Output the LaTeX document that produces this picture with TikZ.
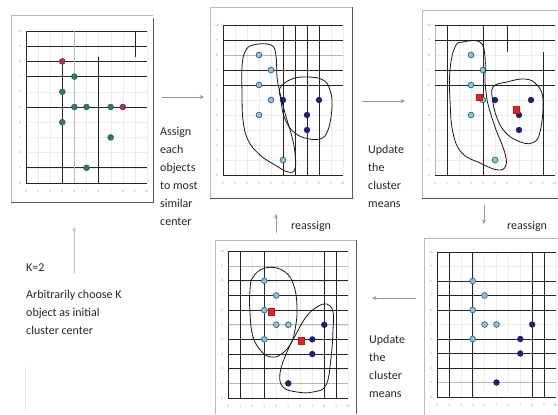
\documentclass[tikz,border=0pt]{standalone}
\usepackage{fontspec}
\setmainfont{Carlito}
\usetikzlibrary{arrows.meta}
\definecolor{ptgreen}{HTML}{2F7D5C}
\definecolor{ptmaroon}{HTML}{A8325A}
\definecolor{ptlight}{HTML}{5AA6D6}
\definecolor{ptcyan}{HTML}{45B5C8}
\definecolor{ptdark}{HTML}{1E1E7E}
\definecolor{ptred}{HTML}{E52222}
\newcommand\myticks[1]{\foreach \i in {0,...,9}{\node[tick] (#1x\i) at (\i,-0.55) {\i};}
 \node[tick,anchor=east] (#1x10) at (10.12,-0.55) {10};
 \foreach \i in {0,...,10}{\node[tick] (#1y\i) at (-0.5,\i) {\i};}}
\newcommand\fgrid{\draw[fgrd] foreach \i in {0,...,10} {(\i,0)--(\i,10) (0,\i)--(10,\i)};}
\begin{document}
\begin{tikzpicture}[x=1pt,y=-1pt,
 grd/.style={black!85,line width=0.8pt},
 lgrd/.style={gray!55,line width=0.6pt},
 fgrd/.style={gray!15,line width=0.3pt},
 ltop/.style={gray!55,line width=0.6pt},
 shd/.style={black!65,line width=0.9pt},
 tick/.style={font=\fontsize{3.5}{4}\selectfont,text=gray!80,inner sep=0pt},
 lbl/.style={font=\fontsize{12}{18}\selectfont,align=left,anchor=north west,inner sep=0pt,text=black!85},
 arr/.style={-{Stealth[length=4.5pt,width=4pt]},draw=gray!80,line width=0.6pt},
 blob/.style={black!90,line width=0.8pt},
 pgreen/.style={fill=ptgreen,draw=ptgreen!70!black,line width=0.4pt},
 pmaroon/.style={fill=ptmaroon,draw=ptmaroon!70!black,line width=0.4pt},
 plight/.style={fill=ptlight!70,draw=ptlight!60!black,line width=0.7pt},
 pcyan/.style={fill=ptcyan!70,draw=ptcyan!60!black,line width=0.7pt},
 pdark/.style={fill=ptdark,draw=ptdark!70!black,line width=0.4pt},
 pred/.style={fill=ptred,draw=ptred!80!black,line width=0.3pt}]
\useasboundingbox (0,0) rectangle (558,415);
\clip (0,0) rectangle (558,415);
\fill[white] (0,0) rectangle (558,415);

% ---------- panel 1 ----------
\draw[ltop] (11,202) -- (11,15) -- (153,15);
\draw[shd] (153,18) -- (153,202) -- (11,202);
\begin{scope}[shift={(26,183)},x=12.1pt,y=15.2pt]
 \fgrid
 \draw[grd] (0,0)--(10,0) (0,0)--(0,10) (0,10)--(10,10) (0,9)--(10,9) (0,8)--(10,8) (0,7)--(10,7)
   (0,5)--(10,5) (0,1)--(10,1) (3,0)--(3,8) (6,0)--(6,8.3) (9,8.3)--(9,10);
 \draw[lgrd] (4,0)--(4,10);
 \myticks{a}
 \foreach \p in {(4,7),(3,6),(4,5),(5,5),(3,4),(7,5),(7,3),(5,1)} \filldraw[pgreen] \p circle (3pt);
 \foreach \p in {(3,8),(8,5)} \filldraw[pmaroon] \p circle (3pt);
\end{scope}

% ---------- panel 2 ----------
\draw[ltop] (210,198) -- (210,7) -- (352,7);
\draw[shd] (352,7) -- (352,198) -- (210,198);
\begin{scope}[shift={(223,175)},x=12pt,y=15pt]
 \fgrid
 \draw[lgrd] (0,8)--(10,8);
 \draw[grd] (0,0)--(10,0) (0,0)--(0,10) (0,10)--(10,10) (0,9)--(10,9) (0,7)--(10,7) (0,6)--(10,6)
   (5,0)--(5,10) (6,0)--(6,10) (7,0)--(7,10) (8,0)--(8,10);
 \myticks{b}
 \foreach \p in {(3,8),(4,7),(3,6),(4,5),(3,4),(5,1)} \filldraw[plight] \p circle (2.9pt);
 \foreach \p in {(5,5),(8,5),(7,4),(7,3)} \filldraw[pdark] \p circle (2.9pt);
\end{scope}
\draw[blob] plot[smooth cycle,tension=0.7] coordinates {(253,45) (271,45) (276,56) (277,77) (280,93)
 (285,113) (292,137) (295,153) (295,169) (288,172) (275,165) (260,155) (248,140) (243,120) (242,93) (242,67) (245,52)};
\draw[blob] plot[smooth cycle,tension=0.7] coordinates {(280,88) (292,79) (308,77) (323,80) (330,90)
 (332,107) (328,130) (320,139) (305,138) (295,133) (288,125) (283,113) (281,100)};

% ---------- panel 3 ----------
\draw[ltop] (422,198) -- (422,10) -- (558,10);
\draw[shd] (422,198) -- (558,198);
\begin{scope}[shift={(435,175)},x=12pt,y=15pt]
 \fgrid
 \draw[lgrd] (0,0)--(0,10);
 \draw[grd] (0,0)--(10,0) (0,10)--(10,10) (0,9)--(10,9) (0,7)--(10,7) (0,6)--(10,6)
   (1,0)--(1,10) (4,0)--(4,10) (6,8.2)--(6,10) (9,0)--(9,8.2);
 \myticks{c}
 \foreach \p in {(3,8),(4,7),(3,6),(4,5),(3,4),(5,1)} \filldraw[pcyan] \p circle (2.9pt);
 \foreach \p in {(5,5),(8,5),(7,4),(7,3)} \filldraw[pdark] \p circle (2.9pt);
 \foreach \p in {(3.65,5.2),(6.75,4.35)} \filldraw[pred] \p ++(-3pt,-3.3pt) rectangle ++(6pt,6.6pt);
\end{scope}
\draw[blob] plot[smooth cycle,tension=0.7] coordinates {(455,47) (463,42) (480,42) (485,57) (485,83)
 (487,100) (495,127) (504,150) (506,165) (498,170) (480,163) (462,153) (453,133) (450,100) (450,70)};
\draw[blob] plot[smooth cycle,tension=0.7] coordinates {(493,87) (507,82) (525,79) (537,85) (543,100)
 (540,132) (532,143) (518,141) (505,132) (497,118) (493,102)};

% ---------- panel 4 ----------
\draw[ltop] (424,415) -- (424,238) -- (558,238);
\begin{scope}[shift={(437,397)},x=11.9pt,y=14.5pt]
 \fgrid
 \draw[lgrd] (0,1)--(10,1);
 \draw[grd] (0,0)--(10,0) (0,10)--(10,10) (0,8)--(10,8) (0,7)--(10,7) (0,6)--(10,6) (0,4)--(10,4) (0,3)--(10,3) (0,2)--(10,2)
   (0,0)--(0,10) (1,0)--(1,10) (3,0)--(3,10) (8,0)--(8,10) (9,0)--(9,10);
 \myticks{d}
 \foreach \p in {(3,8),(4,7),(3,6),(4,5),(5,5),(3,4)} \filldraw[plight] \p circle (2.9pt);
 \foreach \p in {(8,5),(7,4),(7,3),(5,1)} \filldraw[pdark] \p circle (2.9pt);
\end{scope}

% ---------- panel 5 ----------
\draw[ltop] (215,414) -- (215,240) -- (356,240);
\draw[shd] (356,240) -- (356,414);
\begin{scope}[shift={(228.3,398)},x=12pt,y=14.65pt]
 \fgrid
 \draw[lgrd] (0,1)--(10,1) (0,9)--(10,9) (0,5)--(10,5);
 \draw[grd] (0,0)--(10,0) (0,10)--(10,10) (0,8)--(10,8) (0,7)--(10,7) (0,6)--(10,6) (0,4)--(10,4) (0,3)--(10,3) (0,2)--(10,2)
   (0,0)--(0,10) (1,0)--(1,10) (3,0)--(3,10) (8,0)--(8,10) (9,0)--(9,10);
 \myticks{e}
 \foreach \p in {(3,8),(4,7),(3,6),(4,5),(5,5),(3,4)} \filldraw[plight] \p circle (2.9pt);
 \foreach \p in {(8,5),(7,4),(7,3),(5,1)} \filldraw[pdark] \p circle (2.9pt);
 \foreach \p in {(3.6,5.9),(6.1,3.9)} \filldraw[pred] \p ++(-3pt,-3.3pt) rectangle ++(6pt,6.6pt);
\end{scope}
\draw[blob] plot[smooth cycle,tension=0.7] coordinates {(253,277) (265,268) (282,270) (293,283) (297,307)
 (295,330) (290,345) (280,355) (271,357) (262,352) (253,337) (250,313) (250,290)};
\draw[blob] plot[smooth cycle,tension=0.7] coordinates {(317,307) (327,304) (333,312) (333,330) (331,358)
 (326,385) (313,392) (297,392) (283,387) (280,373) (287,352) (295,336) (306,317)};

% ---------- texts and arrows ----------
\coordinate (a1s) at (162,97);  \coordinate (a1e) at (204,97);
\coordinate (a2s) at (362,101); \coordinate (a2e) at (405,101);
\coordinate (a3s) at (484,205); \coordinate (a3e) at (484,224);
\coordinate (a4s) at (276,233); \coordinate (a4e) at (276,214);
\coordinate (a5s) at (416,298); \coordinate (a5e) at (372,298);
\coordinate (a6s) at (74,273);  \coordinate (a6e) at (74,227);
\draw[arr] (a1s) -- (a1e);
\draw[arr] (a2s) -- (a2e);
\draw[arr] (a3s) -- (a3e);
\draw[arr] (a4s) -- (a4e);
\draw[arr] (a5s) -- (a5e);
\draw[arr,draw=gray!50] (a6s) -- (a6e);
\draw[gray!20,line width=0.8pt] (25,367) -- (25,410);

\node[lbl] (assign) at (160,127) {Assign\\each\\objects\\to most\\similar\\center};
\node[lbl] (upd1) at (368,145) {Update\\the\\cluster\\means};
\node[lbl] (upd2) at (369,335) {Update\\the\\cluster\\means};
\node[lbl,anchor=west] (re1) at (507,226) {reassign};
\node[lbl,anchor=west] (re2) at (291,226) {reassign};
\node[lbl,anchor=west] (k2) at (26,268) {K=2};
\node[lbl] (arb) at (26,290) {Arbitrarily choose K\\object as initial\\cluster center};
\end{tikzpicture}
\end{document}
